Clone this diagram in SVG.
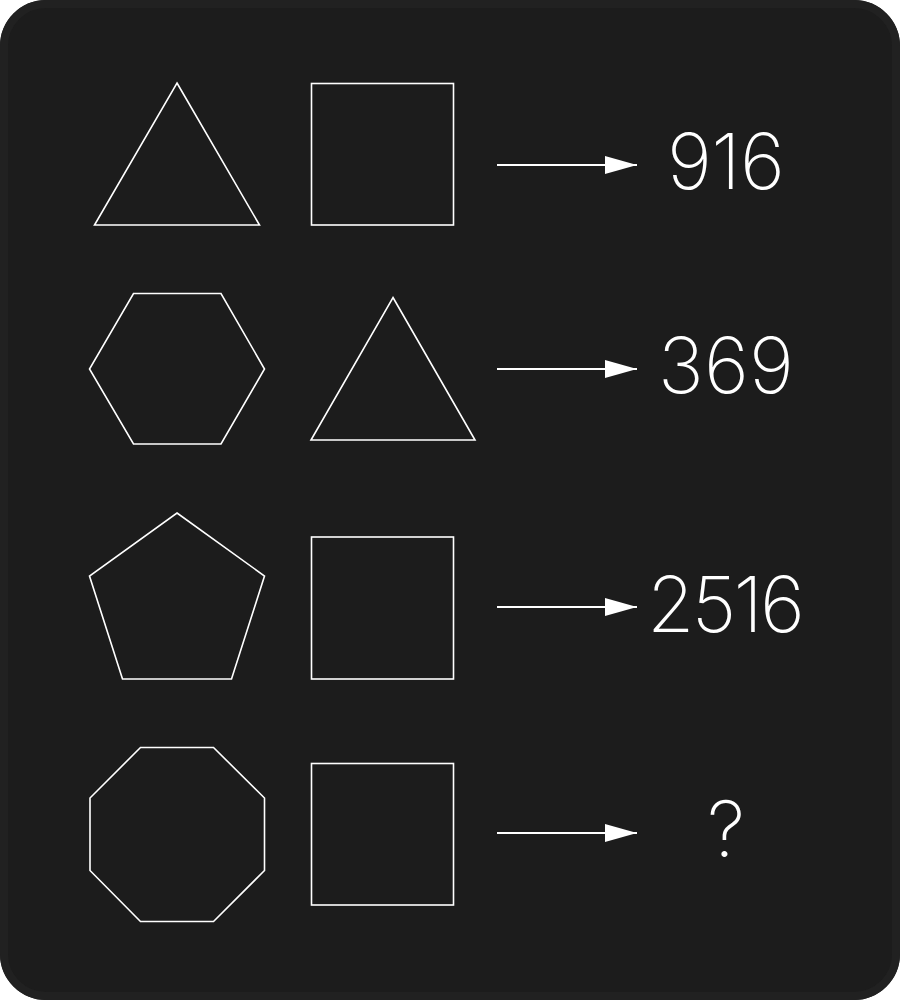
<svg xmlns="http://www.w3.org/2000/svg" width="900" height="1000" viewBox="0 0 900 1000">
  <defs>
    <marker id="arrow" markerWidth="32" markerHeight="18" refX="32" refY="9" orient="auto" markerUnits="userSpaceOnUse">
      <path d="M0,0 L32,9 L0,18 Z" fill="#ffffff"/>
    </marker>
  </defs>
  <style>
    .shape { fill: none; stroke: #ffffff; stroke-width: 1.6; stroke-linejoin: miter; }
    .conn { stroke: #ffffff; stroke-width: 2; fill: none; }
    .num { fill: #ffffff; font-family: Inter, "Liberation Sans", sans-serif; font-weight: 200; font-size: 77px; text-anchor: middle; }
  </style>
  <rect x="0" y="0" width="900" height="1000" fill="#ffffff"/>
  <rect x="0" y="0" width="900" height="1000" rx="46" ry="46" fill="#1c1c1c"/>
  <rect x="4" y="4" width="892" height="992" rx="42" ry="42" fill="none" stroke="#212121" stroke-width="8"/>

  <g id="row1-triangle"><polygon class="shape" points="177,83 259.5,225 94.5,225"/></g>
  <g id="row1-square"><rect class="shape" x="311.5" y="83.5" width="142" height="141.5"/></g>
  <g id="row1-result"><text class="num" x="726" y="189" textLength="118" lengthAdjust="spacing">916</text></g>

  <g id="row2-hexagon"><polygon class="shape" points="133.5,293.5 221,293.5 264.5,369 221,444 133.5,444 89.5,369"/></g>
  <g id="row2-triangle"><polygon class="shape" points="393,297.5 475,440 311,440"/></g>
  <g id="row2-result"><text class="num" x="726" y="393" textLength="136" lengthAdjust="spacing">369</text></g>

  <g id="row3-pentagon"><polygon class="shape" points="177,513 264.5,576 231.5,679 122.5,679 89.5,576"/></g>
  <g id="row3-square"><rect class="shape" x="311.5" y="537" width="142" height="142"/></g>
  <g id="row3-result"><text class="num" x="726" y="632" textLength="158" lengthAdjust="spacing">2516</text></g>

  <g id="row4-octagon"><polygon class="shape" points="140.5,747.5 213.5,747.5 264.5,798 264.5,870.5 213.5,921.5 140.5,921.5 90,870.5 90,798"/></g>
  <g id="row4-square"><rect class="shape" x="311.5" y="763.5" width="142" height="141.5"/></g>
  <g id="row4-result"><text class="num" x="726" y="857">?</text></g>

  <g id="connectors">
    <line class="conn" x1="497" y1="165" x2="637" y2="165" marker-end="url(#arrow)"/>
    <line class="conn" x1="497" y1="369" x2="637" y2="369" marker-end="url(#arrow)"/>
    <line class="conn" x1="497" y1="607" x2="637" y2="607" marker-end="url(#arrow)"/>
    <line class="conn" x1="497" y1="833" x2="637" y2="833" marker-end="url(#arrow)"/>
  </g>
</svg>
